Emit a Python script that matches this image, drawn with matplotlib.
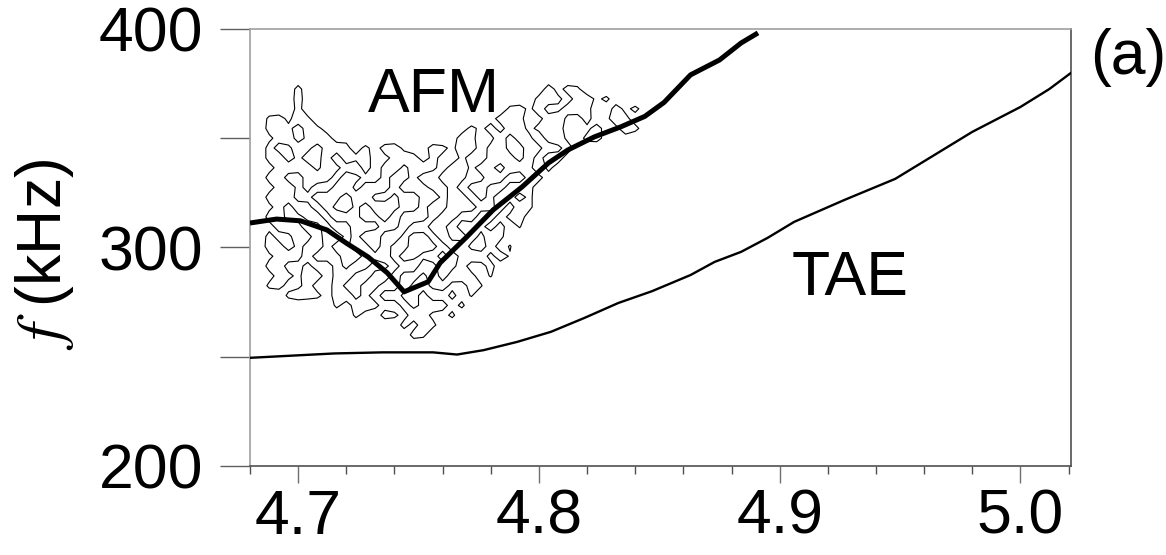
import numpy as np
import matplotlib.pyplot as plt
from matplotlib.ticker import MultipleLocator

plt.rcParams['font.family'] = ['Liberation Sans', 'DejaVu Sans']
plt.rcParams['mathtext.fontset'] = 'stix'

# thick curve through the AFM branch
afm_x = [4.680, 4.691, 4.701, 4.712, 4.720, 4.729, 4.737, 4.744, 4.754, 4.759,
         4.770, 4.781, 4.793, 4.804, 4.812, 4.823, 4.834, 4.844, 4.852, 4.863,
         4.875, 4.884, 4.891]
afm_f = [311.2, 313.0, 312.2, 308.0, 302.0, 295.7, 288.4, 279.7, 284.3, 293.0,
         304.8, 317.2, 327.7, 338.7, 344.6, 350.6, 355.2, 360.0, 366.4, 379.0,
         385.8, 393.6, 398.2]

# thin TAE curve
tae_x = [4.680, 4.715, 4.735, 4.756, 4.766, 4.777, 4.791, 4.805, 4.819, 4.833,
         4.847, 4.863, 4.873, 4.884, 4.895, 4.906, 4.927, 4.948, 4.969, 4.980,
         5.000, 5.012, 5.021]
tae_f = [249.5, 251.5, 252.0, 252.0, 251.0, 253.0, 256.8, 261.4, 267.8, 274.6,
         280.0, 287.4, 293.4, 298.0, 304.4, 311.7, 321.8, 331.4, 345.5, 352.9,
         364.3, 372.5, 379.9]

# spectrogram amplitude (0-9), contoured at one level
# columns start at 4.688, step 0.004; rows start at 377 kHz, step -4.5 kHz
spec_x0, spec_dx = 4.688, 0.004
spec_f0, spec_df = 377.0, -4.5
spec_level = 4.5
spec_rows = [
    "0000000000 0000000000 0000000000 0000000000 0",
    "0007000000 0000000000 0000000008 2760000000 0",
    "0008000000 0000000000 0000000078 6278361200 0",
    "0007000000 0000000000 0000067382 3786217362 0",
    "6738600000 0000000000 0012786237 8327138621 0",
    "7862762100 0000000000 2637287368 7213723862 0",
    "3782687231 0000000002 7623827617 8326721210 0",
    "7238627862 6278312763 8726732861 3721000000 0",
    "7826237186 7236872631 6217863728 7210000000 0",
    "2786738621 7268378627 8376287616 2100000000 0",
    "7823687286 3172362178 6238721762 1000000000 0",
    "2783621783 6872786327 2673278621 0000000000 0",
    "7682378627 8326217836 7263872610 0000000000 0",
    "3728627316 2786327128 6723728610 0000000000 0",
    "7823672876 2372687276 3187267200 0000000000 0",
    "2786237128 7623721862 7862715000 0000000000 0",
    "7238627836 2178367283 2738610000 0000000000 0",
    "8726317238 6273287627 8327250000 0000000000 0",
    "3786278621 7682763272 6873740000 0000000000 0",
    "7823621738 6237218623 7236200000 0000000000 0",
    "2763872683 1782673827 8625000000 0000000000 0",
    "6723721832 7621832673 2750000000 0000000000 0",
    "0068762783 6278327126 2500000000 0000000000 0",
    "0000000627 8621736872 6000000000 0000000000 0",
    "0000000006 2176287326 0000000000 0000000000 0",
    "0000000000 0000728610 0000000000 0000000000 0",
    "0000000000 0000076000 0000000000 0000000000 0",
    "0000000000 0000000000 0000000000 0000000000 0",
]

x_major = [4.7, 4.8, 4.9, 5.0]
y_major = [200, 300, 400]

fig = plt.figure(figsize=(11.66, 5.55), dpi=100)
ax = fig.add_axes([0.2144, 0.1604, 0.7041, 0.7874])

amp = np.array([[int(ch) for ch in r.replace(' ', '')] for r in spec_rows], dtype=float)
amp = np.pad(amp, 1)
gx = spec_x0 + spec_dx * (np.arange(amp.shape[1]) - 1)
gy = spec_f0 + spec_df * (np.arange(amp.shape[0]) - 1)
ax.contour(gx, gy, amp, levels=[spec_level], colors='black', linewidths=0.8, zorder=2)

ax.plot(tae_x, tae_f, color='black', lw=1.7, zorder=3)
ax.plot(afm_x, afm_f, color='black', lw=3.6, zorder=4, solid_capstyle='butt')

ax.set_xlim(4.68, 5.021)
ax.set_ylim(200, 400)
ax.set_xticks(x_major)
ax.set_xticklabels(['4.7', '4.8', '4.9', '5.0'])
ax.xaxis.set_minor_locator(MultipleLocator(0.02))
ax.set_yticks(y_major)
ax.yaxis.set_minor_locator(MultipleLocator(50))

ax.tick_params(axis='x', which='major', direction='out', length=12, width=1.0,
               color='#707070', labelsize=45, pad=3.5)
ax.tick_params(axis='x', which='minor', direction='out', length=6, width=1.0,
               color='#505050')
ax.tick_params(axis='y', which='both', direction='out', length=21.6, width=1.0,
               color='#606060', labelsize=45, pad=12)

for side in ['left', 'top']:
    ax.spines[side].set_color('#a0a0a0')
    ax.spines[side].set_linewidth(1.2)
for side in ['bottom', 'right']:
    ax.spines[side].set_color('#505050')
    ax.spines[side].set_linewidth(1.2)

ax.text(4.7288, 362, 'AFM', fontsize=45, ha='left', va='baseline')
ax.text(4.905, 278.3, 'TAE', fontsize=45, ha='left', va='baseline')
ax.text(1.023, 0.934, '(a)', transform=ax.transAxes, fontsize=45,
        ha='left', va='center')

fig.text(44 / 1166, 1 - 254 / 555, r'$f$ (kHz)', rotation=90, fontsize=45,
         ha='center', va='center')

fig.savefig('out.png', dpi=100)
